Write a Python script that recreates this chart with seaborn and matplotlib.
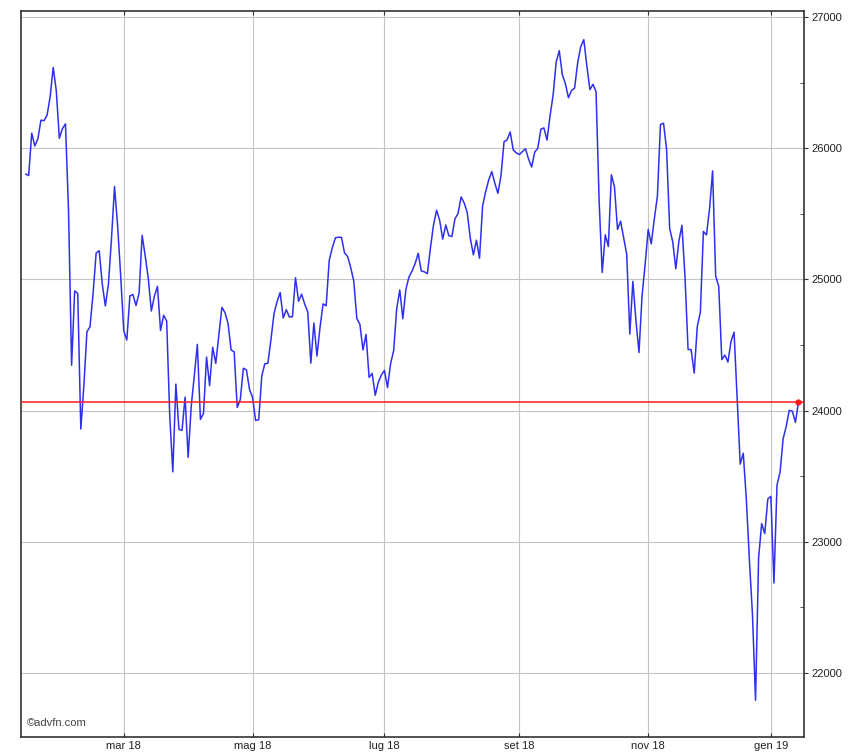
import numpy as np
import pandas as pd
import seaborn as sns
import matplotlib.pyplot as plt
import matplotlib.ticker as mticker

# daily closes, grouped by month
jan18 = [25803, 25792, 26115, 26017, 26071, 26214, 26210, 26252, 26392, 26616, 26439, 26076, 26149]
feb18 = [26186, 25521, 24346, 24912, 24893, 23860, 24191, 24601, 24640, 24893, 25201, 25219, 24964,
         24798, 24963, 25310, 25709, 25410, 25029]
mar18 = [24608, 24538, 24875, 24884, 24801, 24895, 25336, 25179, 25007, 24759, 24873, 24947, 24611,
         24727, 24682, 23958, 23533, 24202, 23857, 23849, 24103]
apr18 = [23644, 24033, 24264, 24505, 23933, 23979, 24408, 24190, 24483, 24360, 24573, 24787, 24748,
         24665, 24463, 24448, 24024, 24084, 24323, 24311, 24163]
may18 = [24100, 23925, 23930, 24263, 24357, 24361, 24542, 24740, 24831, 24900, 24706, 24769, 24714,
         24715, 25013, 24834, 24887, 24812, 24753, 24362, 24668, 24416]
jun18 = [24635, 24814, 24799, 25146, 25241, 25317, 25322, 25320, 25201, 25175, 25090, 24987, 24701,
         24658, 24462, 24581, 24253, 24284, 24117, 24216, 24271]
jul18 = [24307, 24175, 24357, 24456, 24776, 24920, 24700, 24925, 25019, 25064, 25120, 25199, 25065,
         25058, 25044, 25241, 25415, 25527, 25451, 25307, 25415]
aug18 = [25333, 25327, 25463, 25502, 25629, 25583, 25509, 25313, 25187, 25299, 25162, 25559, 25669,
         25758, 25822, 25733, 25656, 25790, 26050, 26064, 26124, 25987, 25965]
sep18 = [25952, 25975, 25996, 25917, 25857, 25971, 25999, 26145, 26155, 26062, 26247, 26406, 26657,
         26744, 26562, 26492, 26385, 26440, 26458]
oct18 = [26651, 26774, 26828, 26627, 26447, 26487, 26431, 25599, 25053, 25340, 25251, 25798, 25706,
         25380, 25444, 25317, 25191, 24583, 24985, 24689, 24443, 24875, 25116]
nov18 = [25380, 25271, 25462, 25635, 26181, 26191, 25989, 25388, 25287, 25081, 25290, 25413, 25018,
         24466, 24465, 24286, 24640, 24749, 25366, 25339, 25538]
dec18 = [25827, 25027, 24947, 24389, 24423, 24370, 24527, 24598, 24101, 23592, 23675, 23324, 22860,
         22445, 21792, 22878, 23139, 23062, 23327]
jan19 = [23346, 22686, 23433, 23531, 23787, 23879, 24002, 23996, 23910, 24065]

holidays = ["2018-01-15", "2018-02-19", "2018-03-30", "2018-05-28", "2018-07-04", "2018-09-03",
            "2018-11-22", "2018-12-05", "2018-12-25", "2019-01-01"]
tick_months = ["2018-03-01", "2018-05-01", "2018-07-01", "2018-09-01", "2018-11-01", "2019-01-01"]
tick_labels = ["mar 18", "mag 18", "lug 18", "set 18", "nov 18", "gen 19"]
y_ticks = [22000, 23000, 24000, 25000, 26000, 27000]

closes = jan18 + feb18 + mar18 + apr18 + may18 + jun18 + jul18 + aug18 + sep18 + oct18 + nov18 + dec18 + jan19
dates = pd.bdate_range("2018-01-12", "2019-01-15", freq="C", holidays=holidays)
df = pd.DataFrame({"date": dates, "close": closes})
df["idx"] = np.arange(len(df))

sns.set_style("white")
plt.rcParams["font.family"] = ["Liberation Sans", "DejaVu Sans"]

fig = plt.figure(figsize=(8.48, 7.55), dpi=100)
ax = fig.add_axes([21 / 848, 1 - 737 / 755, (804 - 21) / 848, (737 - 10.5) / 755])

sns.lineplot(data=df, x="idx", y="close", ax=ax, color="#2f2ff0", linewidth=1.1)

last = df.iloc[-1]
ax.axhline(last["close"], color="#ff1a1a", linewidth=1.1, zorder=3)
ax.plot(last["idx"], last["close"], "o", color="#ff1a1a", markersize=3.5, zorder=4)

ax.set_xlim(-1.5, len(df) - 1 + 1.8)
ax.set_ylim(21512, 27050)

xpos = [int(df.index[df["date"] >= pd.Timestamp(m)][0]) for m in tick_months]
ax.set_xticks(xpos)
ax.set_xticklabels(tick_labels)
ax.set_yticks(y_ticks)
ax.set_yticklabels([str(v) for v in y_ticks])
ax.yaxis.set_minor_locator(mticker.MultipleLocator(500))
ax.yaxis.tick_right()

ax.grid(True, which="major", color="#c4c4c4", linewidth=0.8)
ax.tick_params(axis="x", which="major", direction="in", length=3, top=True, bottom=True,
               labelsize=8, pad=3, colors="#333333", labelcolor="#222222")
ax.tick_params(axis="y", which="major", direction="out", length=3, right=True, left=False,
               labelsize=8, pad=2, colors="#333333", labelcolor="#222222")
ax.tick_params(axis="y", which="minor", direction="in", length=3, right=True, left=False,
               colors="#333333")
for s in ax.spines.values():
    s.set_color("#333333")
    s.set_linewidth(1.2)

ax.set_xlabel("")
ax.set_ylabel("")
ax.text(0.008, 0.012, "©advfn.com", transform=ax.transAxes, fontsize=8, color="#444444",
        ha="left", va="bottom")

fig.savefig("out.png", dpi=100)
